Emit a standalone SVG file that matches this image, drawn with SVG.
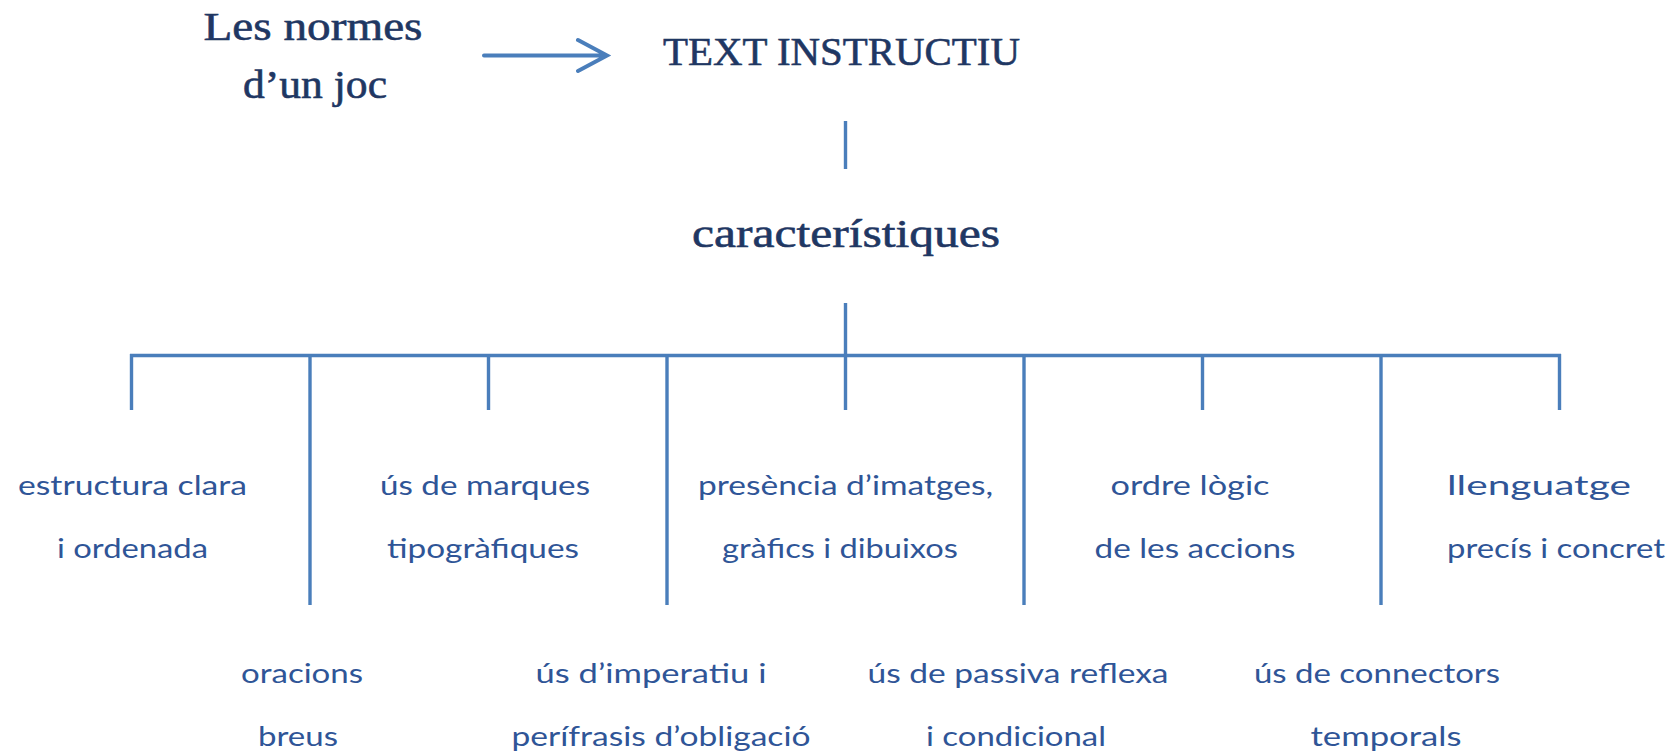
<svg xmlns="http://www.w3.org/2000/svg" width="1678" height="756" viewBox="0 0 1678 756">
<defs>
<style>
.serif{font-family:"Liberation Serif","DejaVu Serif",serif;font-size:41px;fill:#1f3763;stroke:#1f3763;stroke-width:0.6;text-anchor:middle}
.sans{font-family:Lato,"Open Sans","Liberation Sans",sans-serif;font-size:27px;fill:#2f5597;text-anchor:middle}
.ln{stroke:#4a7ebb;stroke-width:3.4;fill:none;stroke-linecap:butt}
.arr{stroke:#4a7ebb;stroke-width:4;fill:none;stroke-linecap:round;stroke-linejoin:miter}
</style>
</defs>
<rect width="1678" height="756" fill="#ffffff"/>
<g id="connectors">
<path class="arr" d="M484 55.5 H606 M578 40 L607 55.5 L578 71"/>
<line class="ln" x1="845.5" y1="121" x2="845.5" y2="169"/>
<line class="ln" x1="845.5" y1="303" x2="845.5" y2="410"/>
<line class="ln" x1="130" y1="355.5" x2="1561" y2="355.5"/>
<line class="ln" x1="131.5" y1="354" x2="131.5" y2="410"/>
<line class="ln" x1="488.5" y1="354" x2="488.5" y2="410"/>
<line class="ln" x1="1202.5" y1="354" x2="1202.5" y2="410"/>
<line class="ln" x1="1559.5" y1="354" x2="1559.5" y2="410"/>
<line class="ln" x1="310" y1="354" x2="310" y2="605"/>
<line class="ln" x1="667" y1="354" x2="667" y2="605"/>
<line class="ln" x1="1024" y1="354" x2="1024" y2="605"/>
<line class="ln" x1="1381" y1="354" x2="1381" y2="605"/>
</g>
<g id="node-normes">
<text class="serif" x="313" y="40" textLength="219" lengthAdjust="spacingAndGlyphs">Les normes</text>
<text class="serif" x="315" y="98" textLength="144" lengthAdjust="spacingAndGlyphs">d’un joc</text>
</g>
<g id="node-text-instructiu">
<text class="serif" x="841.5" y="65" textLength="357" lengthAdjust="spacingAndGlyphs">TEXT INSTRUCTIU</text>
</g>
<g id="node-caracteristiques">
<text class="serif" x="846" y="247" textLength="308" lengthAdjust="spacingAndGlyphs">característiques</text>
</g>
<g id="node-estructura">
<text class="sans" x="132.5" y="495" textLength="229" lengthAdjust="spacingAndGlyphs">estructura clara</text>
<text class="sans" x="132.5" y="558" textLength="151" lengthAdjust="spacingAndGlyphs">i ordenada</text>
</g>
<g id="node-marques">
<text class="sans" x="485" y="495" textLength="210" lengthAdjust="spacingAndGlyphs">ús de marques</text>
<text class="sans" x="483" y="558" textLength="192" lengthAdjust="spacingAndGlyphs">tipogràfiques</text>
</g>
<g id="node-imatges">
<text class="sans" x="845.5" y="495" textLength="295" lengthAdjust="spacingAndGlyphs">presència d’imatges,</text>
<text class="sans" x="840" y="558" textLength="236" lengthAdjust="spacingAndGlyphs">gràfics i dibuixos</text>
</g>
<g id="node-ordre">
<text class="sans" x="1190" y="495" textLength="159" lengthAdjust="spacingAndGlyphs">ordre lògic</text>
<text class="sans" x="1195" y="558" textLength="201" lengthAdjust="spacingAndGlyphs">de les accions</text>
</g>
<g id="node-llenguatge">
<text class="sans" x="1539" y="495" textLength="184" lengthAdjust="spacingAndGlyphs">llenguatge</text>
<text class="sans" x="1556" y="558" textLength="218" lengthAdjust="spacingAndGlyphs">precís i concret</text>
</g>
<g id="node-oracions">
<text class="sans" x="302" y="683" textLength="122" lengthAdjust="spacingAndGlyphs">oracions</text>
<text class="sans" x="298" y="746" textLength="80" lengthAdjust="spacingAndGlyphs">breus</text>
</g>
<g id="node-imperatiu">
<text class="sans" x="651" y="683" textLength="231" lengthAdjust="spacingAndGlyphs">ús d’imperatiu i</text>
<text class="sans" x="661" y="746" textLength="299" lengthAdjust="spacingAndGlyphs">perífrasis d’obligació</text>
</g>
<g id="node-passiva">
<text class="sans" x="1018" y="683" textLength="301" lengthAdjust="spacingAndGlyphs">ús de passiva reflexa</text>
<text class="sans" x="1016" y="746" textLength="180" lengthAdjust="spacingAndGlyphs">i condicional</text>
</g>
<g id="node-connectors">
<text class="sans" x="1377" y="683" textLength="246" lengthAdjust="spacingAndGlyphs">ús de connectors</text>
<text class="sans" x="1386" y="746" textLength="151" lengthAdjust="spacingAndGlyphs">temporals</text>
</g>
</svg>
